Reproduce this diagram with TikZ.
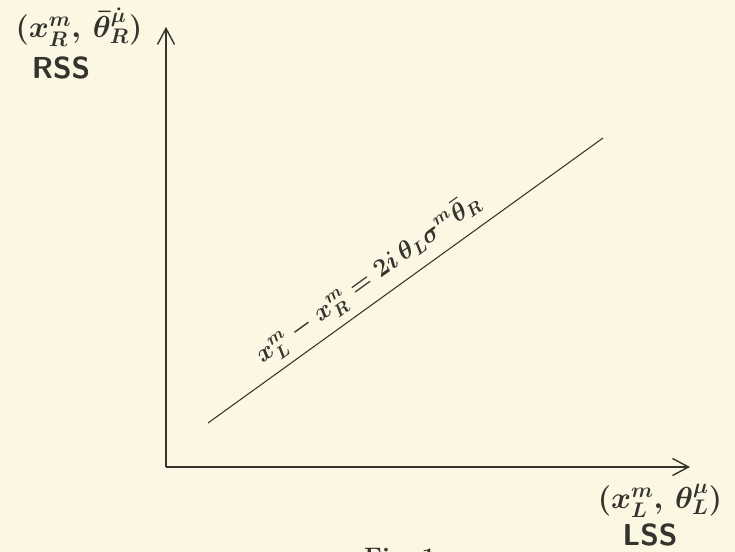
\documentclass[tikz,border=0pt]{standalone}
\usetikzlibrary{arrows.meta}
\definecolor{paper}{HTML}{FBF7E3}
\definecolor{ink}{HTML}{35332E}

\begin{document}
\begin{tikzpicture}[>={Straight Barb[length=3.2mm,width=3.4mm]}, font=\LARGE\boldmath, color=ink]
  \fill[paper] (0,0) rectangle (14.7,11.04);
  \useasboundingbox (0,0) rectangle (14.7,11.04);

  % --- ejes: RSS vertical, LSS horizontal ---
  \coordinate (O) at (3.32,1.7);
  \coordinate (ytop) at (3.32,10.5);
  \coordinate (xend) at (13.8,1.7);
  \draw[->, thick] (O) -- (ytop);
  \draw[->, thick] (O) -- (xend);

  \node (rlab) at (1.58,10.5) {$(x^m_R,\,\bar\theta^{\dot\mu}_R)$};
  \node (rss) at (1.22,9.68) {\sffamily\bfseries RSS};
  \node (llab) at (13.2,1.02) {$(x^m_L,\,\theta^\mu_L)$};
  \node (lss) at (13.0,0.34) {\sffamily\bfseries LSS};

  % --- recta x_L - x_R = 2i theta_L sigma thetabar_R ---
  \coordinate (a) at (4.16,2.58);
  \coordinate (b) at (12.06,8.28);
  \draw[semithick] (a) -- (b)
    node[pos=0.44, sloped, above=1pt, font=\Large\boldmath] (eq) {$x^m_L - x^m_R = 2i\,\theta_L\sigma^m\bar\theta_R$};

  \node[font=\Large\bfseries] (fig) at (8.0,-0.14) {Fig.~1};
\end{tikzpicture}
\end{document}
